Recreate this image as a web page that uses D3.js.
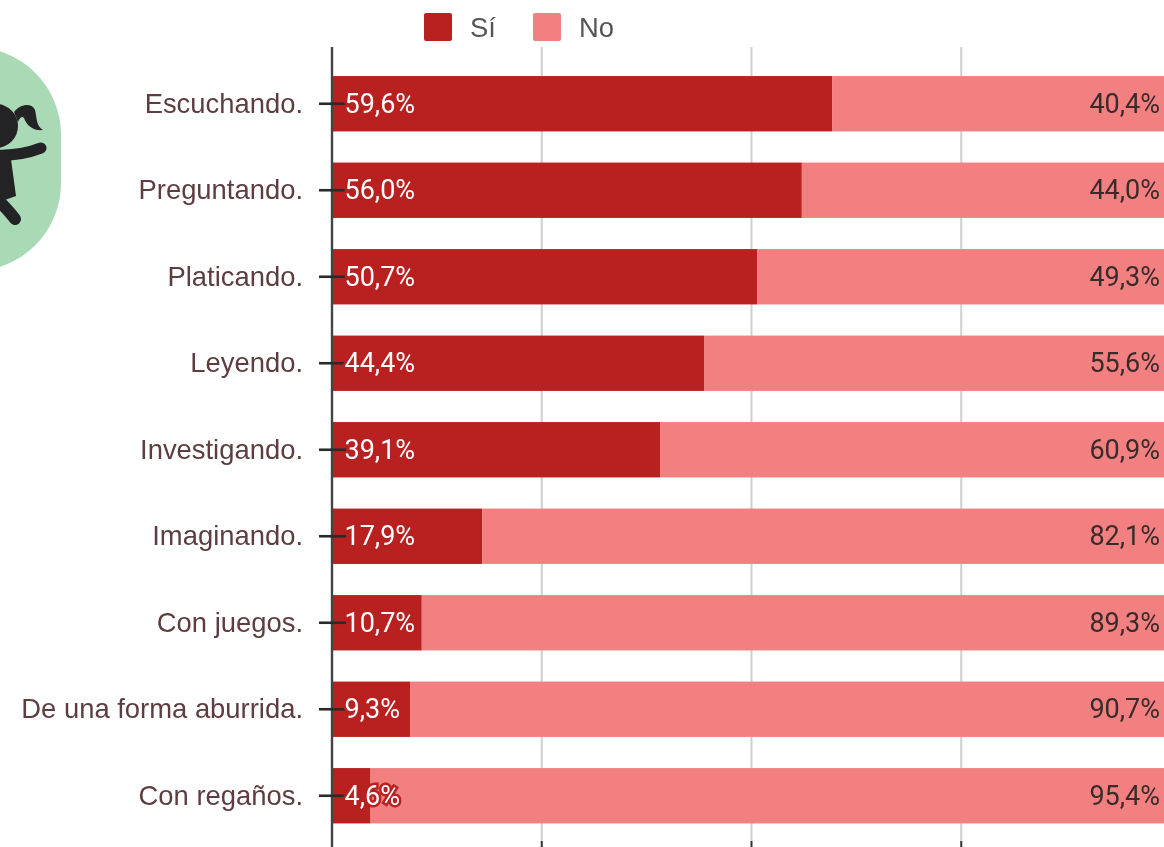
<!DOCTYPE html>
<html><head><meta charset="utf-8">
<script src="https://cdn.jsdelivr.net/npm/d3@7/dist/d3.min.js"></script>
<style>html,body{margin:0;padding:0;background:#fff;overflow:hidden}svg{display:block;filter:blur(.7px)}</style>
</head><body><svg id="c" width="1164" height="847"></svg>
<script>
const categories=["Escuchando.","Preguntando.","Platicando.","Leyendo.","Investigando.","Imaginando.","Con juegos.","De una forma aburrida.","Con regaños."];
const siValues=[59.6,56.0,50.7,44.4,39.1,17.9,10.7,9.3,4.6];
const noValues=[40.4,44.0,49.3,55.6,60.9,82.1,89.3,90.7,95.4];
const seriesNames=["Sí","No"];
const seriesColors=["#b92020","#f28080"];
const xTicks=[0,25,50,75,100];

const svg=d3.select("#c");
const x=d3.scaleLinear().domain([0,100]).range([332,1171]);
const y=d3.scaleBand().domain(categories).range([60.5,839]).paddingInner(.36).paddingOuter(.18);
const fmt=v=>v.toFixed(1).replace(".",",")+"%";
const labelFont="'Liberation Sans',Arial,sans-serif", valueFont="Roboto,sans-serif";

// icon
const ink="#232325";
const icon=svg.append("g");
icon.append("rect").attr("x",-170).attr("y",47).attr("width",231).attr("height",224).attr("rx",88).attr("fill","#a9d9b5");
icon.append("circle").attr("cx",-4).attr("cy",126).attr("r",22).attr("fill",ink);
icon.append("path").attr("fill",ink).attr("d","M14 112C20 104 32 102 35 110C37 118 36 126 43 130C35 131 27 127 24 118C22 116 20 117 18 122Z");
icon.append("path").attr("fill","none").attr("stroke",ink).attr("stroke-width",11).attr("stroke-linecap","round").attr("d","M-4 155C15 156 28 153 41 148");
icon.append("path").attr("fill",ink).attr("d","M-6 152L10 152L16 196L-6 204Z");
icon.append("path").attr("fill","none").attr("stroke",ink).attr("stroke-width",12).attr("stroke-linecap","round").attr("d","M-2 200C4 206 10 212 15 219");

// gridlines
svg.append("g").selectAll("line").data(xTicks.slice(1,4)).join("line")
 .attr("x1",d=>x(d)).attr("x2",d=>x(d)).attr("y1",47).attr("y2",841)
 .attr("stroke","#cfcfcf").attr("stroke-width",2);
svg.append("g").selectAll("line").data(xTicks.slice(1,4)).join("line")
 .attr("x1",d=>x(d)).attr("x2",d=>x(d)).attr("y1",841).attr("y2",847)
 .attr("stroke","#333").attr("stroke-width",2);

// bars
svg.append("g").selectAll("rect").data(categories).join("rect")
 .attr("x",x(0)).attr("y",d=>y(d)).attr("height",y.bandwidth())
 .attr("width",(d,i)=>x(siValues[i])-x(0)).attr("fill",seriesColors[0]);
svg.append("g").selectAll("rect").data(categories).join("rect")
 .attr("x",(d,i)=>x(siValues[i])).attr("y",d=>y(d)).attr("height",y.bandwidth())
 .attr("width",(d,i)=>x(100)-x(siValues[i])).attr("fill",seriesColors[1]);

// axis line and ticks
svg.append("line").attr("x1",x(0)).attr("x2",x(0)).attr("y1",47).attr("y2",847).attr("stroke","#444").attr("stroke-width",2.4);
svg.append("g").selectAll("line").data(categories).join("line")
 .attr("x1",319).attr("x2",346).attr("y1",d=>y(d)+y.bandwidth()/2).attr("y2",d=>y(d)+y.bandwidth()/2)
 .attr("stroke","#2a2a2a").attr("stroke-width",2.6);

// category labels
svg.append("g").selectAll("text").data(categories).join("text")
 .attr("x",303).attr("y",d=>y(d)+y.bandwidth()/2+9).attr("text-anchor","end")
 .attr("font-family",labelFont).attr("font-size",27.4).attr("fill","#5d3d40").text(d=>d);

// value labels
svg.append("g").selectAll("text").data(siValues).join("text")
 .attr("x",344.5).attr("y",(d,i)=>y(categories[i])+y.bandwidth()/2+9)
 .attr("font-family",valueFont).attr("font-size",27)
 .attr("fill","#fff").attr("stroke",seriesColors[0]).attr("stroke-width",5).attr("paint-order","stroke").text(fmt);
svg.append("g").selectAll("text").data(noValues).join("text")
 .attr("x",1160).attr("y",(d,i)=>y(categories[i])+y.bandwidth()/2+9).attr("text-anchor","end")
 .attr("font-family",valueFont).attr("font-size",27)
 .attr("fill","#3a2a2a").text(fmt);

// legend
const lx=[424,533];
const lg=svg.append("g").selectAll("g").data(seriesNames).join("g");
lg.append("rect").attr("x",(d,i)=>lx[i]).attr("y",13).attr("width",28).attr("height",28).attr("rx",2).attr("fill",(d,i)=>seriesColors[i]);
lg.append("text").attr("x",(d,i)=>lx[i]+46).attr("y",36.5).attr("font-family",labelFont).attr("font-size",27.4).attr("fill","#555").text(d=>d);
</script></body></html>
